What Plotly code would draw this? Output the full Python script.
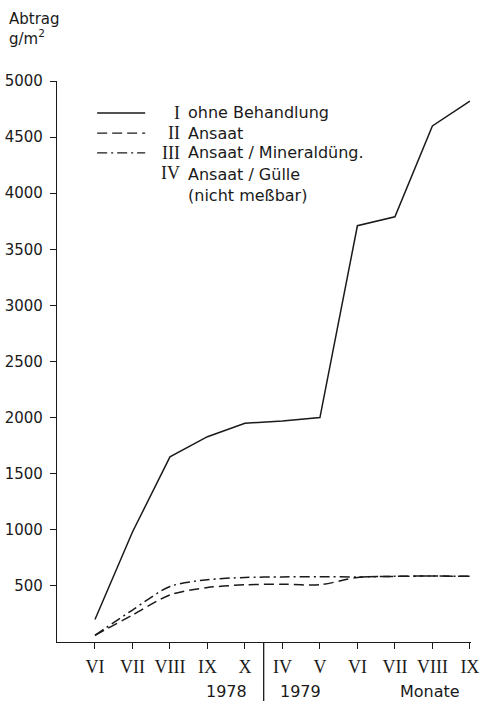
import plotly.graph_objects as go

months = ["VI", "VII", "VIII", "IX", "X", "IV", "V", "VI", "VII", "VIII", "IX"]
x_idx = list(range(len(months)))

s1_ohne = [200, 980, 1650, 1830, 1950, 1970, 2000, 3710, 3790, 4600, 4820]
s2_ansaat = [60, 240, 420, 485, 510, 515, 510, 575, 585, 588, 585]
s3_mineral = [60, 285, 495, 555, 575, 580, 582, 580, 585, 588, 585]

y_ticks = [500, 1000, 1500, 2000, 2500, 3000, 3500, 4000, 4500, 5000]

legend_numerals = ["I", "II", "III", "IV"]
legend_names = ["ohne Behandlung", "Ansaat", "Ansaat / Mineraldüng.", "Ansaat / Gülle<br>(nicht meßbar)"]
legend_dashes = ["solid", "10px,5px", "10px,4px,2px,4px", None]

INK = "#1a1a1a"
FONT = "DejaVu Sans"
ROMAN = "Liberation Serif"

fig = go.Figure()
fig.add_trace(go.Scatter(x=x_idx, y=s1_ohne, mode="lines",
                         line=dict(color=INK, width=1.5, dash="solid")))
fig.add_trace(go.Scatter(x=x_idx, y=s2_ansaat, mode="lines",
                         line=dict(color=INK, width=1.5, dash="10px,5px", shape="spline", smoothing=0.8)))
fig.add_trace(go.Scatter(x=x_idx, y=s3_mineral, mode="lines",
                         line=dict(color=INK, width=1.5, dash="10px,4px,2px,4px", shape="spline", smoothing=0.8)))

shapes = []
annotations = []
rows_y = [0.943, 0.907, 0.872, 0.836]
for i, (num, name, dash) in enumerate(zip(legend_numerals, legend_names, legend_dashes)):
    yy = rows_y[i]
    if dash is not None:
        shapes.append(dict(type="line", xref="paper", yref="paper",
                           x0=0.097, x1=0.213, y0=yy, y1=yy,
                           line=dict(color=INK, width=1.3, dash=dash)))
    annotations.append(dict(xref="paper", yref="paper", x=0.302, y=yy, text=num,
                            showarrow=False, xanchor="right", yanchor="middle",
                            font=dict(size=18, color=INK, family=ROMAN)))
    multi = "<br>" in name
    annotations.append(dict(xref="paper", yref="paper", x=0.312, y=yy + (0.0185 if multi else 0),
                            text=name, showarrow=False, xanchor="left",
                            yanchor="top" if multi else "middle", align="left",
                            font=dict(size=16, color=INK, family=FONT)))

# separator between years
shapes.append(dict(type="line", xref="x", yref="paper", x0=4.5, x1=4.5, y0=0, y1=-0.11,
                   line=dict(color=INK, width=1.3)))

annotations += [
    dict(xref="paper", yref="paper", x=-0.121, y=1.13, text="Abtrag<br>g/m<sup>2</sup>",
         showarrow=False, xanchor="left", yanchor="top", align="left",
         font=dict(size=15, color=INK, family=FONT)),
    dict(xref="x", yref="paper", x=3.52, y=-0.089, text="1978", showarrow=False,
         xanchor="center", yanchor="middle", font=dict(size=16, color=INK, family=FONT)),
    dict(xref="x", yref="paper", x=5.47, y=-0.089, text="1979", showarrow=False,
         xanchor="center", yanchor="middle", font=dict(size=16, color=INK, family=FONT)),
    dict(xref="x", yref="paper", x=8.93, y=-0.089, text="Monate", showarrow=False,
         xanchor="center", yanchor="middle", font=dict(size=16, color=INK, family=FONT)),
]

fig.update_layout(
    width=481, height=701,
    margin=dict(l=57, r=10, t=81, b=59, autoexpand=False),
    paper_bgcolor="white", plot_bgcolor="white",
    showlegend=False,
    shapes=shapes, annotations=annotations,
    font=dict(family=FONT, color=INK, size=15),
)
fig.update_xaxes(range=[-1.013, 10.03], tickvals=x_idx, ticktext=months,
                 automargin=False,
                 showline=True, linecolor=INK, linewidth=1.3, ticks="outside",
                 ticklen=6, tickcolor=INK, tickwidth=1.3, showgrid=False, zeroline=False,
                 ticklabelstandoff=2,
                 tickfont=dict(size=18, family=ROMAN, color=INK))
fig.update_yaxes(range=[0, 5000], tickvals=y_ticks, ticktext=[str(v) for v in y_ticks],
                 automargin=False,
                 showline=True, linecolor=INK, linewidth=1.3, ticks="outside",
                 ticklen=6, tickcolor=INK, tickwidth=1.3, showgrid=False, zeroline=False,
                 ticklabelstandoff=4,
                 tickfont=dict(size=15, family=FONT, color=INK))

fig.write_html("out.html", config={"displayModeBar": False},
               post_script="document.body.style.margin='0';document.body.style.padding='0';")
